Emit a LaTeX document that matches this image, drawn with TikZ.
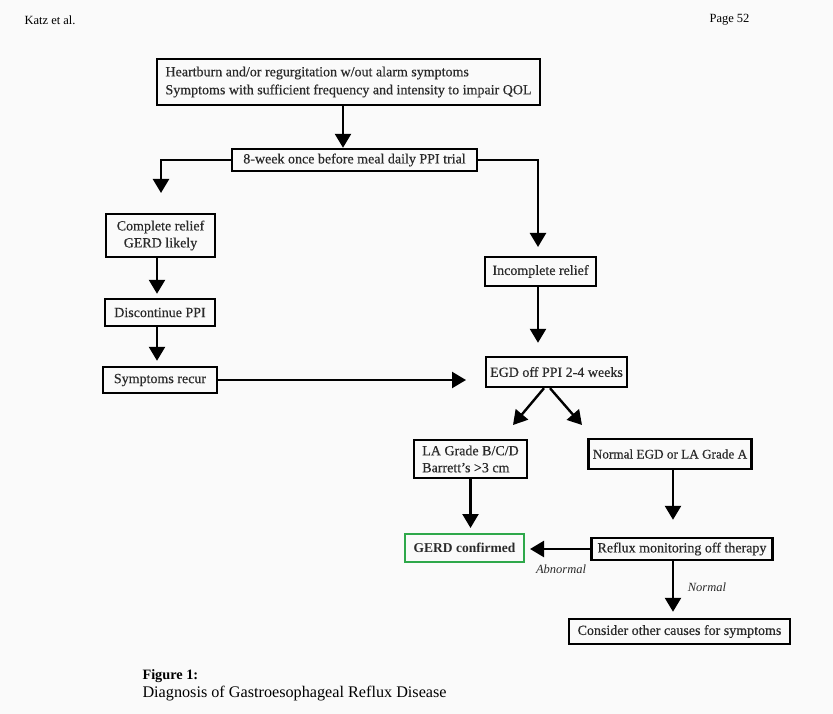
\documentclass[tikz,border=0pt]{standalone}
\usepackage{fontspec}
\setmainfont{Liberation Serif}
\newfontfamily\boxfont[FakeBold=0.4]{Liberation Serif}
\usetikzlibrary{arrows.meta,calc}
\definecolor{txt}{HTML}{2A2A2A}
\definecolor{gerdgreen}{HTML}{2EA84A}
\definecolor{bgc}{HTML}{FAFAFA}
\begin{document}
\begin{tikzpicture}[x=1pt,y=-1pt,
  box/.style={draw=black,line width=2.4pt,inner sep=0pt,align=center,text=txt,font=\boxfont\fontsize{14}{17}\selectfont},
  arr/.style={line width=2.4pt,-{Triangle[width=16pt,length=14pt]}},
  lbl/.style={text=txt,font=\itshape\fontsize{12.5}{14}\selectfont}]
\useasboundingbox (0,0) rectangle (833,714);
\fill[bgc] (0,0) rectangle (833,714);
% header
\node[anchor=west,font=\fontsize{12.5}{14}\selectfont] (hdrL) at (21,20) {Katz et al.};
\node[anchor=east,font=\fontsize{12.5}{14}\selectfont] (hdrR) at (753,20) {Page 52};
% boxes
\node[box,minimum width=383pt,minimum height=46pt,align=left,font=\boxfont\fontsize{14}{18}\selectfont] (top) at (348.5,82)
  {Heartburn and/or regurgitation w/out alarm symptoms\\Symptoms with sufficient frequency and intensity to impair QOL};
\node[box,minimum width=245pt,minimum height=22pt] (trial) at (354.5,160) {8-week once before meal daily PPI trial};
\node[box,minimum width=109pt,minimum height=43pt] (complete) at (160.5,235.5) {Complete relief\\GERD likely};
\node[box,minimum width=110pt,minimum height=27pt] (discont) at (160,312.5) {Discontinue PPI};
\node[box,minimum width=114pt,minimum height=26pt] (recur) at (160,380) {Symptoms recur};
\node[box,minimum width=111pt,minimum height=29pt] (incomplete) at (540.5,271.5) {Incomplete relief};
\node[box,minimum width=141pt,minimum height=30pt] (egd) at (556.5,372) {EGD off PPI 2-4 weeks};
\node[box,minimum width=113pt,minimum height=38pt,align=left] (lagrade) at (470.5,459) {LA Grade B/C/D\\Barrett’s >3 cm};
\node[box,minimum width=163pt,minimum height=30pt,font=\boxfont\fontsize{13.2}{17}\selectfont] (normal) at (670,454) {Normal EGD or LA Grade A};
\node[box,draw=gerdgreen,line width=2pt,minimum width=119pt,minimum height=28pt,font=\bfseries\fontsize{13.5}{17}\selectfont] (gerd) at (464.5,548) {GERD confirmed};
\node[box,minimum width=181pt,minimum height=22pt] (reflux) at (682,549) {Reflux monitoring off therapy};
\node[box,minimum width=221pt,minimum height=25pt] (consider) at (679.5,631.5) {Consider other causes for symptoms};
% free ends
\coordinate (c1) at (161,193);
\coordinate (c2) at (538,247);
\coordinate (c3) at (466,380);
\coordinate (d1) at (513,425);
\coordinate (d2) at (582,425);
% connectors
\draw[arr] ([xshift=-5.5pt]top.south) -- ([xshift=-5.5pt]top.south |- trial.north);
\draw[arr] (trial.west) -| (c1);
\draw[arr] (trial.east) -| (c2);
\draw[arr,shorten >=4pt] ([xshift=-3.5pt]complete.south) -- ([xshift=-3.5pt]complete.south |- discont.north);
\draw[arr,shorten >=5pt] ([xshift=-3pt]discont.south) -- ([xshift=-3pt]discont.south |- recur.north);
\draw[arr] (recur.east) -- (c3);
\draw[arr,shorten >=13pt] ([xshift=-2.5pt]incomplete.south) -- ([xshift=-2.5pt]incomplete.south |- egd.north);
\draw[arr] ([xshift=-12.5pt]egd.south) -- (d1);
\draw[arr] ([xshift=-6.5pt]egd.south) -- (d2);
\draw[arr,shorten >=5pt] (lagrade.south) -- (lagrade.south |- gerd.north);
\draw[arr,shorten >=17pt] ([xshift=3pt]normal.south) -- ([xshift=3pt]normal.south |- reflux.north);
\draw[arr,shorten >=5pt] (reflux.west) -- (reflux.west -| gerd.east);
\draw[arr,shorten >=6pt] ([xshift=-9pt]reflux.south) -- ([xshift=-9pt]reflux.south |- consider.north);
% labels
\node[lbl] (abn) at (561,569) {Abnormal};
\node[lbl] (nrm) at (707,587) {Normal};
% caption
\node[anchor=west,font=\bfseries\fontsize{14.3}{16}\selectfont] (figl) at (139,676) {Figure 1:};
\node[anchor=west,font=\fontsize{16.2}{18}\selectfont] (figc) at (139,693.5) {Diagnosis of Gastroesophageal Reflux Disease};
\end{tikzpicture}
\end{document}
